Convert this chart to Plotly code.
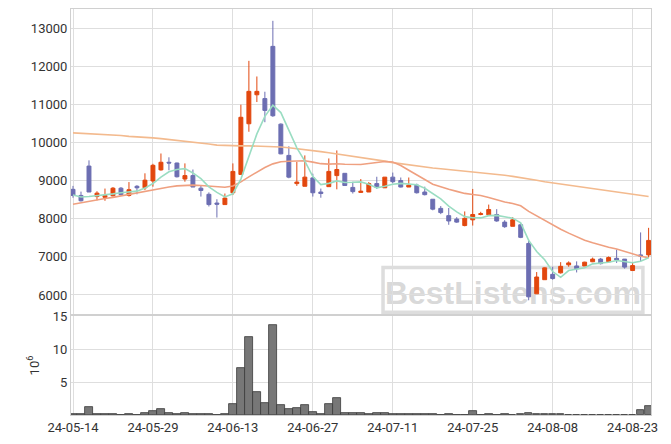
import plotly.graph_objects as go
from plotly.subplots import make_subplots

dates = [
    "2024-05-14", "2024-05-16", "2024-05-17", "2024-05-20", "2024-05-21", "2024-05-22", "2024-05-23",
    "2024-05-24", "2024-05-27", "2024-05-28", "2024-05-29", "2024-05-30", "2024-05-31",
    "2024-06-03", "2024-06-04", "2024-06-05", "2024-06-07", "2024-06-10", "2024-06-11", "2024-06-12",
    "2024-06-13", "2024-06-14", "2024-06-17", "2024-06-18", "2024-06-19", "2024-06-20", "2024-06-21",
    "2024-06-24", "2024-06-25", "2024-06-26", "2024-06-27", "2024-06-28",
    "2024-07-01", "2024-07-02", "2024-07-03", "2024-07-04", "2024-07-05", "2024-07-08", "2024-07-09",
    "2024-07-10", "2024-07-11", "2024-07-12", "2024-07-15", "2024-07-16", "2024-07-17", "2024-07-18",
    "2024-07-19", "2024-07-22", "2024-07-23", "2024-07-24", "2024-07-25", "2024-07-26", "2024-07-29",
    "2024-07-30", "2024-07-31",
    "2024-08-01", "2024-08-02", "2024-08-05", "2024-08-06", "2024-08-07", "2024-08-08", "2024-08-09",
    "2024-08-12", "2024-08-13", "2024-08-14", "2024-08-16", "2024-08-19", "2024-08-20", "2024-08-21",
    "2024-08-22", "2024-08-23", "2024-08-26", "2024-08-27",
]

open_ = [8770, 8610, 9380, 8580, 8560, 8600, 8800, 8610, 8850, 8810, 8990, 9280, 9480, 9460, 9040,
         9130, 8800, 8640, 8410, 8370, 8680, 9160, 10490, 11250, 11150, 12520, 10480, 9660, 8920, 8850,
         9070, 8700, 8840, 9130, 9190, 8820, 8690, 8700, 8920, 8810, 9090, 9000, 8830, 8880, 8700,
         8510, 8270, 8080, 7990, 7820, 7970, 8110, 8100, 8110, 7910, 7800, 7840, 7350, 6030, 6400,
         6540, 6580, 6790, 6760, 6760, 6870, 6940, 6870, 6960, 6940, 6640, 7050, 7050]
high = [8860, 8710, 9530, 8720, 8790, 8830, 8830, 8960, 8880, 9190, 9440, 9710, 9610, 9470, 9450,
        9290, 8860, 8690, 8510, 8660, 9450, 10990, 12140, 11730, 11330, 13190, 10500, 9900, 9490, 9660,
        9180, 8790, 9580, 9790, 9190, 8970, 9040, 8960, 9100, 9090, 9210, 9080, 9080, 8920, 8840,
        8510, 8330, 8280, 8040, 8190, 8780, 8180, 8370, 8250, 7960, 8040, 7880, 7450, 6600, 6720,
        6740, 6860, 6880, 6880, 6870, 6980, 6970, 7010, 7190, 6940, 6840, 7640, 7760]
low = [8550, 8450, 8700, 8480, 8470, 8580, 8610, 8580, 8640, 8750, 8840, 9260, 9270, 9080, 8970,
       8830, 8580, 8320, 8030, 8370, 8620, 9160, 10280, 11060, 10530, 10670, 9690, 9060, 8860, 8850,
       8580, 8550, 8840, 8770, 8870, 8660, 8680, 8700, 8780, 8810, 8930, 8820, 8830, 8660, 8610,
       8220, 8120, 7840, 7890, 7800, 7820, 8090, 8100, 7920, 7760, 7800, 7490, 5860, 6030, 6400,
       6400, 6560, 6740, 6590, 6760, 6860, 6800, 6870, 6840, 6690, 6640, 6880, 6980]
close = [8610, 8470, 8700, 8670, 8610, 8800, 8630, 8760, 8810, 9010, 9400, 9480, 9460, 9100, 9130,
         8830, 8740, 8370, 8380, 8540, 9240, 10660, 11340, 11340, 10840, 10700, 9700, 9090, 8960, 9090,
         8680, 8660, 9240, 9290, 8870, 8710, 8720, 8920, 8820, 9090, 8970, 8830, 8880, 8680, 8630,
         8250, 8160, 7940, 7910, 8010, 8110, 8130, 8240, 7940, 7790, 7970, 7510, 5950, 6470, 6710,
         6430, 6750, 6840, 6690, 6860, 6940, 6820, 6980, 6920, 6730, 6770, 7020, 7430]

ma_short = [8620, 8570, 8580, 8600, 8612, 8650, 8682, 8694, 8722, 8802, 8922, 9092, 9232, 9290, 9314,
            9200, 9052, 8834, 8690, 8572, 8654, 9038, 9632, 10224, 10684, 10976, 10784, 10334, 9858, 9508,
            9104, 8896, 8926, 8992, 8948, 8954, 8966, 8902, 8808, 8852, 8904, 8926, 8918, 8890, 8798,
            8654, 8520, 8332, 8178, 8054, 8026, 8020, 8080, 8086, 8042, 8014, 7890, 7432, 7138, 6922,
            6614, 6462, 6640, 6684, 6714, 6816, 6830, 6858, 6904, 6878, 6844, 6884, 6974]
ma_mid = [8380, 8420, 8460, 8500, 8530, 8560, 8600, 8640, 8680, 8710, 8750, 8790, 8830, 8860, 8875,
          8880, 8870, 8860, 8845, 8825, 8857, 8966, 9098, 9232, 9343, 9438, 9492, 9508, 9516, 9520,
          9484, 9443, 9432, 9441, 9428, 9422, 9421, 9449, 9471, 9498, 9485, 9393, 9270, 9137, 9027,
          8904, 8827, 8770, 8717, 8663, 8635, 8608, 8558, 8491, 8437, 8400, 8339, 8191, 8073, 7954,
          7827, 7723, 7621, 7522, 7433, 7368, 7301, 7253, 7203, 7139, 7072, 7017, 6976]
ma_long = [10250, 10240, 10230, 10220, 10200, 10190, 10180, 10160, 10150, 10130, 10120, 10100, 10080,
           10060, 10040, 10020, 9990, 9960, 9930, 9920, 9915, 9910, 9910, 9905, 9900, 9890, 9880, 9860,
           9840, 9820, 9790, 9760, 9730, 9700, 9670, 9640, 9610, 9580, 9540, 9510, 9470, 9440, 9410,
           9380, 9350, 9330, 9310, 9290, 9270, 9240, 9220, 9200, 9180, 9160, 9140, 9110, 9080, 9050,
           9010, 8970, 8940, 8910, 8880, 8850, 8820, 8790, 8760, 8730, 8700, 8670, 8640, 8610, 8580]

volume_m = [0.1, 0.1, 1.15, 0.1, 0.1, 0.1, 0, 0.1, 0, 0.25, 0.55, 0.85, 0.25, 0.1, 0.25, 0.1, 0.1, 0.1,
            0, 0.1, 1.6, 7.2, 11.9, 3.55, 1.9, 13.8, 1.45, 0.9, 1.0, 1.45, 0.4, 0.1, 1.75, 2.65, 0.25,
            0.25, 0.25, 0.1, 0.25, 0.25, 0.1, 0.1, 0.1, 0.1, 0.1, 0.1, 0, 0.1, 0, 0, 0.6, 0, 0.1, 0,
            0.1, 0, 0.1, 0.25, 0.1, 0.1, 0.1, 0.1, 0, 0, 0, 0, 0, 0, 0, 0, 0, 0.75, 1.35]

tick_dates = ["2024-05-14", "2024-05-29", "2024-06-13", "2024-06-27", "2024-07-11", "2024-07-25",
              "2024-08-08", "2024-08-23"]
tick_labels = ["24-05-14", "24-05-29", "24-06-13", "24-06-27", "24-07-11", "24-07-25", "24-08-08",
               "24-08-23"]
price_ticks = [6000, 7000, 8000, 9000, 10000, 11000, 12000, 13000]
volume_ticks = [5, 10, 15]

UP = "#E2470E"
DOWN = "#6C6EB2"
GRID = "#dedede"
FONT = dict(family="Roboto, sans-serif", size=13, color="#333333")

fig = make_subplots(rows=2, cols=1, shared_xaxes=True, vertical_spacing=0.005,
                    row_heights=[0.755, 0.245])

fig.add_trace(go.Candlestick(
    x=dates, open=open_, high=high, low=low, close=close,
    increasing=dict(line=dict(color=UP, width=1), fillcolor=UP),
    decreasing=dict(line=dict(color=DOWN, width=1), fillcolor=DOWN),
    whiskerwidth=0, showlegend=False, hoverinfo="x+y"), row=1, col=1)

fig.add_trace(go.Scatter(x=dates, y=ma_long, mode="lines",
                         line=dict(color="#F3BA8E", width=1.6), showlegend=False), row=1, col=1)
fig.add_trace(go.Scatter(x=dates, y=ma_mid, mode="lines",
                         line=dict(color="#EFA080", width=1.6), showlegend=False), row=1, col=1)
fig.add_trace(go.Scatter(x=dates, y=ma_short, mode="lines",
                         line=dict(color="#9ADDC2", width=1.6), showlegend=False), row=1, col=1)

fig.add_trace(go.Bar(x=dates, y=volume_m, width=0.95,
                     marker=dict(color="#777777", line=dict(color="#3a3a3a", width=0.8)),
                     showlegend=False), row=2, col=1)

axis_common = dict(showgrid=True, gridcolor=GRID, gridwidth=1, showline=True, linecolor="#d0d0d0",
                   linewidth=1, mirror=True, zeroline=False, tickfont=FONT, ticks="",
                   automargin=False)

fig.update_xaxes(type="category", range=[-0.25, 72.3], tickmode="array", tickvals=tick_dates,
                 ticktext=tick_labels, rangeslider=dict(visible=False), **axis_common)
fig.update_xaxes(showticklabels=False, row=1, col=1)
fig.update_yaxes(range=[5500, 13500], tickvals=price_ticks, tickformat="d", row=1, col=1,
                 **axis_common)
fig.update_yaxes(range=[0, 15.1], tickvals=volume_ticks, row=2, col=1,
                 title=dict(text="10<sup>6</sup>", font=FONT, standoff=10), **axis_common)

fig.add_shape(type="rect", xref="paper", yref="paper", x0=0.538, x1=0.986, y0=0.253, y1=0.363,
              line=dict(color="rgba(215,215,215,0.85)", width=3.5), fillcolor="rgba(0,0,0,0)",
              layer="below",
              label=dict(text="BestListens.com",
                         font=dict(family="Liberation Sans, Arial, sans-serif", size=32,
                                   color="rgba(212,212,212,0.9)", weight="bold"),
                         textposition="middle center"))

fig.update_layout(
    width=663, height=436,
    margin=dict(l=63, r=20, t=1, b=29, autoexpand=False),
    paper_bgcolor="white", plot_bgcolor="white",
    font=FONT, bargap=0, showlegend=False,
)

fig.write_html("out.html")
